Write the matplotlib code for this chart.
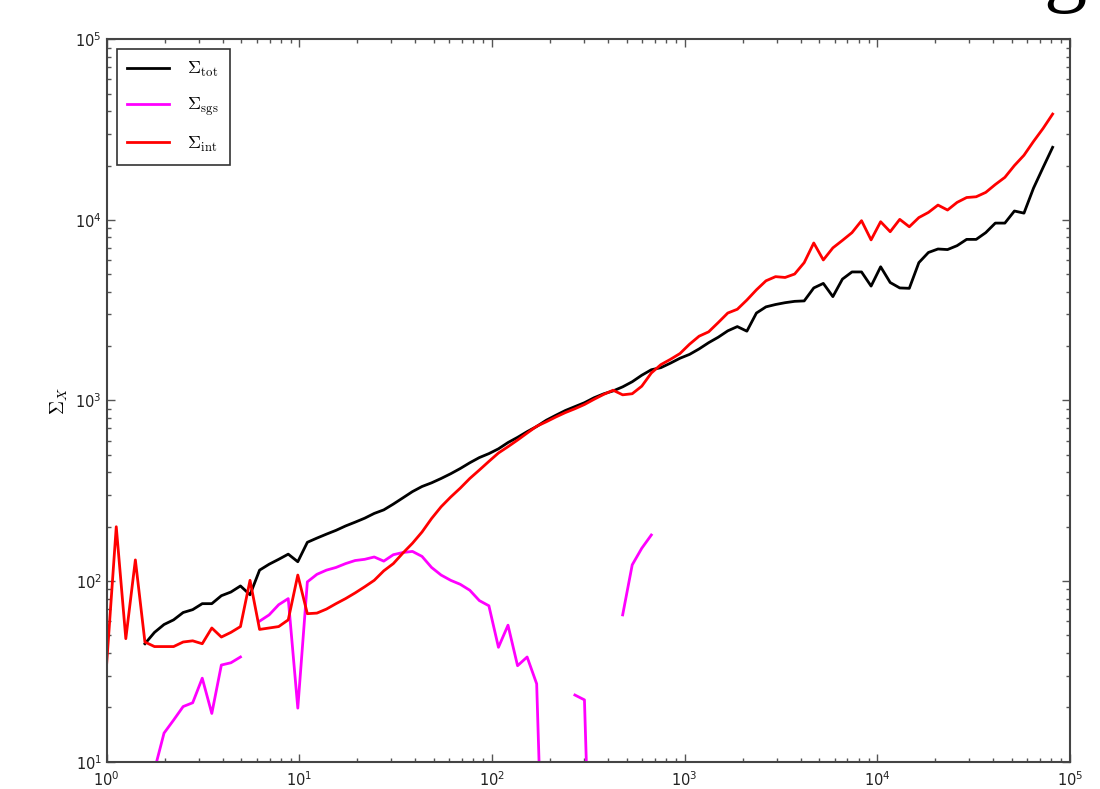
import numpy as np
import matplotlib
matplotlib.use("Agg")
import matplotlib.pyplot as plt

# wavenumber bins (log spaced), and spectral sums per bin
k = np.logspace(0, 4.91, 100)

nan = np.nan
sigma_tot = [
    nan, nan, nan, nan, 45, 52, 57.5, 61, 67, 69.5,
    75, 75, 83, 87, 94, 84, 115, 124, 132, 141,
    128, 164, 173, 182, 191, 202, 212, 223, 237, 248,
    267, 289, 313, 334, 350, 370, 393, 420, 452, 483,
    508, 540, 585, 625, 672, 718, 777, 828, 880, 925,
    972, 1035, 1088, 1130, 1190, 1270, 1380, 1480, 1520, 1610,
    1714, 1800, 1930, 2090, 2240, 2430, 2566, 2420, 3050, 3300,
    3400, 3480, 3540, 3560, 4200, 4450, 3760, 4700, 5150, 5150,
    4300, 5500, 4500, 4200, 4180, 5800, 6600, 6900, 6850, 7200,
    7800, 7800, 8500, 9600, 9600, 11200, 10900, 15000, 19500, 25230,
]

sigma_sgs = [
    nan, nan, nan, nan, nan, 9, 14.4, 17, 20.2, 21.2,
    29, 18.5, 34.3, 35.3, 38, nan, 60, 65, 74, 80,
    19.8, 99, 109, 115, 119, 125, 130, 132, 136, 129,
    140, 144, 146, 137, 119, 108, 101, 96, 89, 78,
    73, 43, 57, 34, 38, 27, 0.5, nan, nan, 23.4,
    22, 0.4, nan, nan, 65, 123, 152, 180, nan, nan,
] + [nan] * 40

sigma_int = [
    35, 200, 48, 131, 46, 43.4, 43.4, 43.4, 46, 46.7,
    45, 55, 49, 52, 56, 101, 54, 55, 56, 61,
    108, 66, 66.5, 70, 75, 80, 86, 93, 101, 114,
    125, 143, 162, 187, 222, 258, 292, 327, 370, 412,
    460, 512, 555, 604, 660, 720, 762, 810, 857, 900,
    950, 1015, 1080, 1140, 1075, 1090, 1200, 1420, 1580, 1690,
    1820, 2050, 2270, 2400, 2700, 3050, 3200, 3600, 4100, 4600,
    4850, 4800, 5015, 5800, 7450, 6000, 7000, 7700, 8500, 9900,
    7750, 9770, 8600, 10070, 9160, 10300, 11000, 12080, 11340, 12500,
    13300, 13430, 14200, 15700, 17200, 20000, 22800, 27200, 32100, 38550,
]

plt.rcParams['mathtext.fontset'] = 'cm'
plt.rcParams['xtick.direction'] = 'in'
plt.rcParams['ytick.direction'] = 'in'

fig = plt.figure(figsize=(11, 7.89), dpi=100)
ax = fig.add_axes([0.097, 0.0346, 0.8757, 0.9156])

ax.plot(k, sigma_tot, color='k', lw=2, label=r'$\Sigma_{\rm tot}$')
ax.plot(k, sigma_sgs, color='#ff00ff', lw=2, label=r'$\Sigma_{\rm sgs}$')
ax.plot(k, sigma_int, color='#ff0000', lw=2, label=r'$\Sigma_{\rm int}$')

ax.set_xscale('log')
ax.set_yscale('log')
ax.set_xlim(1, 1e5)
ax.set_ylim(10, 1e5)
ax.set_ylabel(r'$\Sigma_X$', fontsize=14)

ax.tick_params(which='both', top=True, right=True, labelsize=10.5,
               color='#555555', labelcolor='#222222')
ax.tick_params(axis='x', which='major', pad=6)
ax.tick_params(which='major', length=6, width=1)
ax.tick_params(which='minor', length=3, width=1)
for s in ax.spines.values():
    s.set_linewidth(1.5)
    s.set_color('#444444')

leg = ax.legend(loc='upper left', fontsize=13, fancybox=False, framealpha=1,
                edgecolor='#333333', handlelength=2.3, borderpad=0.6,
                labelspacing=0.9, handletextpad=1.0, borderaxespad=0.55)
leg.get_frame().set_linewidth(1.2)

fig.text(0.948, 1.006, 'g', fontsize=62, family='Liberation Serif', va='baseline')

fig.savefig('out.png', dpi=100)
